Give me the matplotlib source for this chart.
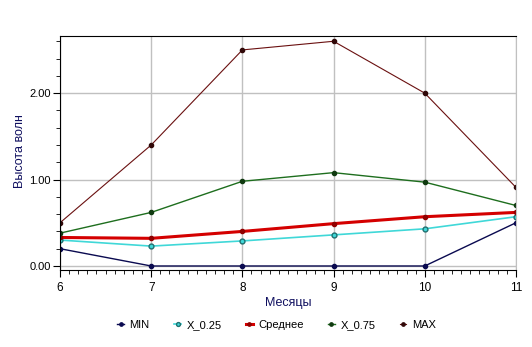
import matplotlib
matplotlib.use('Agg')
from matplotlib import pyplot as plt
from matplotlib.ticker import MultipleLocator

plt.rcParams['font.family'] = ['Liberation Sans', 'DejaVu Sans']

months = [6, 7, 8, 9, 10, 11]
v_min = [0.20, 0.00, 0.00, 0.00, 0.00, 0.50]
v_q25 = [0.30, 0.23, 0.29, 0.36, 0.43, 0.57]
v_mean = [0.33, 0.32, 0.40, 0.49, 0.57, 0.62]
v_q75 = [0.38, 0.62, 0.98, 1.08, 0.97, 0.70]
v_max = [0.50, 1.40, 2.50, 2.60, 2.00, 0.91]

fig = plt.figure(figsize=(5.32, 3.47), dpi=100)
ax = fig.add_axes([0.1128, 0.222, 0.857, 0.674])

ax.plot(months, v_min, color='#0a0a50', lw=1, marker='o', ms=3, label='MIN')
ax.plot(months, v_q25, color='#40d8d8', lw=1.2, marker='o', ms=3.5, mfc='#40d8d8', mec='#207070', label='X_0.25')
ax.plot(months, v_mean, color='#d40000', lw=2.2, marker='o', ms=3, mfc='#900000', mec='#900000', label='Среднее')
ax.plot(months, v_q75, color='#1e6e1e', lw=1, marker='o', ms=3, mfc='#103a10', mec='#103a10', label='X_0.75')
ax.plot(months, v_max, color='#6a1010', lw=0.8, marker='o', ms=3, mfc='#300808', mec='#300808', label='MAX')

ax.set_xlim(6, 11)
ax.set_ylim(-0.046, 2.66)
ax.xaxis.set_major_locator(MultipleLocator(1))
ax.xaxis.set_minor_locator(MultipleLocator(0.1))
ax.yaxis.set_major_locator(MultipleLocator(1))
ax.yaxis.set_minor_locator(MultipleLocator(0.2))
ax.yaxis.set_major_formatter(matplotlib.ticker.FormatStrFormatter('%.2f'))
ax.grid(True, which='major', color='#c0c0c0', lw=1)
ax.set_axisbelow(True)
ax.tick_params(which='both', direction='out', labelsize=8.5, colors='black')
ax.tick_params(axis='y', pad=1.5, labelsize=8)
ax.tick_params(which='major', length=5)
ax.tick_params(which='minor', length=3)
ax.spines['right'].set_color('#c0c0c0')
for s in ['top', 'left', 'bottom']:
    ax.spines[s].set_color('black')
ax.set_xlabel('Месяцы', color='#101060', fontsize=9, labelpad=2)
ax.set_ylabel('Высота волн', color='#101060', fontsize=9)
ax.yaxis.set_label_coords(-0.074, 0.51)

fig.legend(loc='lower center', bbox_to_anchor=(0.52, 0.02), ncol=5, frameon=False,
           fontsize=8, handlelength=0.6, handletextpad=0.5, columnspacing=2.2, markerscale=0.8)

fig.savefig('out.png', dpi=100)
